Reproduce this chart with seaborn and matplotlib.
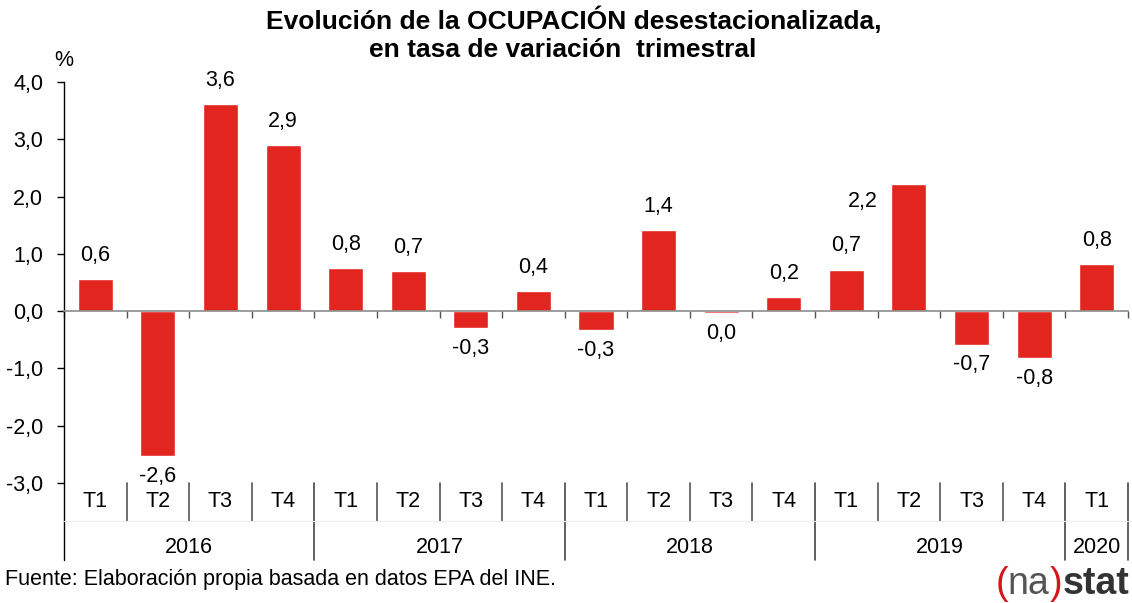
import pandas as pd
import seaborn as sns
import matplotlib.pyplot as plt
from matplotlib.offsetbox import TextArea, HPacker, AnnotationBbox

# datos
anios = ['2016', '2017', '2018', '2019', '2020']
trimestres = ['T1', 'T2', 'T3', 'T4',
              'T1', 'T2', 'T3', 'T4',
              'T1', 'T2', 'T3', 'T4',
              'T1', 'T2', 'T3', 'T4',
              'T1']
anio_de_cada = ['2016'] * 4 + ['2017'] * 4 + ['2018'] * 4 + ['2019'] * 4 + ['2020']
valores = [0.56, -2.53, 3.61, 2.90,
           0.75, 0.70, -0.30, 0.35,
           -0.33, 1.41, -0.04, 0.24,
           0.72, 2.22, -0.59, -0.82,
           0.82]
etiquetas = ['0,6', '-2,6', '3,6', '2,9',
             '0,8', '0,7', '-0,3', '0,4',
             '-0,3', '1,4', '0,0', '0,2',
             '0,7', '2,2', '-0,7', '-0,8',
             '0,8']

df = pd.DataFrame({'periodo': [a + ' ' + t for a, t in zip(anio_de_cada, trimestres)],
                   'valor': valores})

sns.set_style("white")
plt.rcParams['font.family'] = ['Liberation Sans', 'DejaVu Sans']
plt.rcParams['text.color'] = 'black'
plt.rcParams['xtick.color'] = 'black'
plt.rcParams['ytick.color'] = 'black'

fig = plt.figure(figsize=(11.32, 6.03), dpi=100)
ax = fig.add_axes([64 / 1132, 120 / 603, 1064 / 1132, 401 / 603])

rojo = '#E2261F'
fs = 15.5
sns.barplot(data=df, x='periodo', y='valor', color=rojo, width=0.56,
            saturation=1, ax=ax)

n = len(valores)
ax.set_xlim(-0.5, n - 0.5)
ax.set_ylim(-3, 4)
ax.set_xlabel('')
ax.set_ylabel('')

# eje y
ax.set_yticks(range(-3, 5))
ax.set_yticklabels([f'{v:.1f}'.replace('.', ',') for v in range(-3, 5)], fontsize=fs)
ax.tick_params(axis='y', direction='out', length=5, width=1, color='black',
               labelcolor='black', pad=10, left=True)
for lado in ['top', 'right']:
    ax.spines[lado].set_visible(False)
ax.spines['left'].set_color('black')
ax.spines['left'].set_linewidth(1)

# eje x en el cero
ax.spines['bottom'].set_position(('data', 0))
ax.spines['bottom'].set_color('#8c8c8c')
ax.spines['bottom'].set_linewidth(1.2)
ax.set_xticks([i - 0.5 for i in range(n + 1)])
ax.set_xticklabels([])
ax.tick_params(axis='x', direction='out', length=5, width=1, color='#555555', bottom=True)

# etiquetas de datos
for i, (v, et) in enumerate(zip(valores, etiquetas)):
    if i == 13:
        off = (-46, -18)
    elif v >= 0:
        off = (0, 24)
    else:
        off = (0, -20)
    ax.annotate(et, (i, v), xytext=off, textcoords='offset pixels',
                ha='center', va='center', fontsize=fs, color='black')

# categorias debajo del grafico
tr = ax.get_xaxis_transform()
for i, t in enumerate(trimestres):
    ax.text(i, -0.045, t, transform=tr, ha='center', va='center', fontsize=fs, color='black')

inicio = 0
for a in anios:
    cuenta = anio_de_cada.count(a)
    ax.text(inicio + (cuenta - 1) / 2, -0.162, a, transform=tr,
            ha='center', va='center', fontsize=fs, color='black')
    inicio += cuenta

fin_anios = []
acum = 0
for a in anios:
    acum += anio_de_cada.count(a)
    fin_anios.append(acum - 0.5)

for i in range(1, n):
    b = i - 0.5
    if b in fin_anios:
        ax.plot([b, b], [0, -0.192], transform=tr, color='#444444', lw=1.2, clip_on=False)
    else:
        ax.plot([b, b], [0, -0.095], transform=tr, color='#555555', lw=1.2, clip_on=False)
ax.plot([n - 0.5, n - 0.5], [0, -0.192], transform=tr, color='#444444', lw=1.2, clip_on=False)
ax.plot([-0.5, -0.5], [0, -0.192], transform=tr, color='black', lw=1, clip_on=False)
ax.plot([-0.5, n - 0.5], [-0.095, -0.095], transform=tr, color='#ececec', lw=0.8, clip_on=False)

# titulo y textos
fig.text(0.507, 1 - 20 / 603, 'Evolución de la OCUPACIÓN desestacionalizada,',
         ha='center', va='center', fontsize=19, fontweight='bold', color='black')
fig.text(0.497, 1 - 50 / 603, 'en tasa de variación  trimestral',
         ha='center', va='center', fontsize=19, fontweight='bold', color='black')
fig.text(64 / 1132, 1 - 60 / 603, '%', ha='center', va='center', fontsize=fs, color='black')
fig.text(5 / 1132, 1 - 580 / 603, 'Fuente: Elaboración propia basada en datos EPA del INE.',
         ha='left', va='center', fontsize=fs, color='black')

# logo
partes = [TextArea('(', textprops=dict(color='#d7141c', fontsize=27)),
          TextArea('na', textprops=dict(color='#555555', fontsize=27)),
          TextArea(')', textprops=dict(color='#d7141c', fontsize=27)),
          TextArea('stat', textprops=dict(color='#333333', fontsize=27, fontweight='bold'))]
logo = HPacker(children=partes, pad=0, sep=0, align='baseline')
ab = AnnotationBbox(logo, (1129 / 1132, 1 - 584 / 603), xycoords='figure fraction',
                    box_alignment=(1, 0.5), frameon=False)
fig.add_artist(ab)

fig.savefig('out.png', dpi=100)
